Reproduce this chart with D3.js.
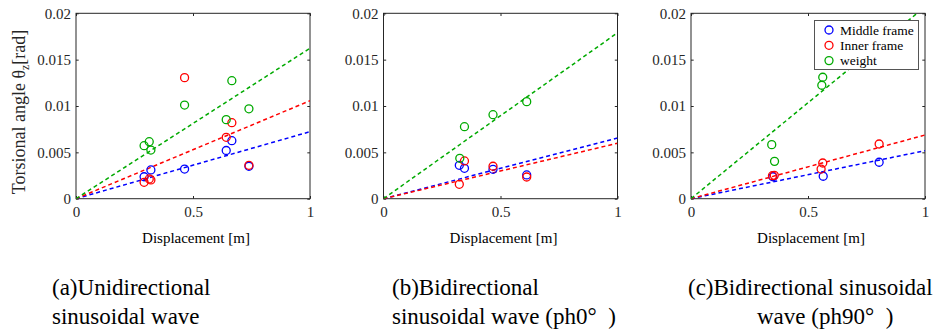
<!DOCTYPE html>
<html>
<head>
<meta charset="utf-8">
<script src="https://cdn.jsdelivr.net/npm/d3@7"></script>
<style>
  body { margin: 0; background: #fff; }
  svg { display: block; }
  svg text { font-family: "Liberation Serif", "DejaVu Serif", serif; }
</style>
</head>
<body>
<svg></svg>
<script>
var width = 944;
var height = 332;

var seriesNames = ["Middle frame", "Inner frame", "weight"];
var seriesColors = ["#0000ff", "#ff0000", "#00aa00"];

// panel (a) unidirectional
var aMiddleX = [0.291, 0.320, 0.464, 0.642, 0.666, 0.739];
var aMiddleY = [0.00237, 0.0031, 0.0032, 0.0052, 0.00626, 0.0035];
var aInnerX = [0.291, 0.313, 0.320, 0.464, 0.642, 0.666, 0.739];
var aInnerY = [0.00177, 0.00213, 0.00202, 0.01306, 0.00662, 0.0082, 0.0036];
var aWeightX = [0.291, 0.313, 0.320, 0.464, 0.642, 0.666, 0.739];
var aWeightY = [0.00572, 0.00615, 0.00525, 0.0101, 0.00853, 0.01273, 0.0097];
var aSlopes = [0.00723, 0.01057, 0.01623];

// panel (b) bidirectional ph0
var bMiddleX = [0.324, 0.346, 0.468, 0.612];
var bMiddleY = [0.0036, 0.00328, 0.00317, 0.00256];
var bInnerX = [0.324, 0.346, 0.468, 0.612];
var bInnerY = [0.00155, 0.00407, 0.0035, 0.00234];
var bWeightX = [0.326, 0.346, 0.468, 0.612];
var bWeightY = [0.00436, 0.00777, 0.00906, 0.01047];
var bSlopes = [0.00655, 0.00598, 0.0179];

// panel (c) bidirectional ph90
var cMiddleX = [0.350, 0.565, 0.804];
var cMiddleY = [0.00237, 0.00242, 0.00393];
var cInnerX = [0.348, 0.356, 0.556, 0.563, 0.804];
var cInnerY = [0.00248, 0.00252, 0.0032, 0.00385, 0.0059];
var cWeightX = [0.345, 0.357, 0.559, 0.563];
var cWeightY = [0.00583, 0.00403, 0.01224, 0.0131];
var cSlopes = [0.00518, 0.00687, 0.0207];

var xTicks = [0, 0.5, 1];
var yTicks = [0, 0.005, 0.01, 0.015, 0.02];
var xLabel = "Displacement [m]";

var panels = [
  { left: 76, xs: [aMiddleX, aInnerX, aWeightX], ys: [aMiddleY, aInnerY, aWeightY], slopes: aSlopes,
    caption: [{ x: 52, t: "(a)Unidirectional" }, { x: 52, t: "sinusoidal wave" }] },
  { left: 383.5, xs: [bMiddleX, bInnerX, bWeightX], ys: [bMiddleY, bInnerY, bWeightY], slopes: bSlopes,
    caption: [{ x: 392, t: "(b)Bidirectional" }, { x: 392, t: "sinusoidal wave (ph0\u00b0\u00a0\u00a0)" }] },
  { left: 691, xs: [cMiddleX, cInnerX, cWeightX], ys: [cMiddleY, cInnerY, cWeightY], slopes: cSlopes,
    caption: [{ x: 688, t: "(c)Bidirectional sinusoidal" }, { x: 757, t: "wave (ph90\u00b0\u00a0\u00a0)" }] }
];

var serif = "'Liberation Serif', 'DejaVu Serif', serif";
var plotW = 234;
var plotTop = 13.3;
var plotBottom = 198.7;
var axisColor = "#262626";
var tickLen = 2.7;

var svg = d3
  .select("svg")
  .attr("width", width)
  .attr("height", height)
  .attr("font-family", serif);

var fmt = function(d) { return d === 0 ? "0" : String(d); };

panels.forEach(function(p, pi) {
  var xScale = d3.scaleLinear().domain([0, 1]).range([p.left, p.left + plotW]);
  var yScale = d3.scaleLinear().domain([0, 0.02]).range([plotBottom, plotTop]);

  var g = svg.append("g");

  g.append("clipPath")
    .attr("id", "clip" + pi)
    .append("rect")
    .attr("x", p.left)
    .attr("y", plotTop)
    .attr("width", plotW)
    .attr("height", plotBottom - plotTop);

  // bottom / left axes, ticks pointing inward
  var xAxis = g.append("g")
    .attr("transform", "translate(0," + plotBottom + ")")
    .call(d3.axisBottom(xScale).tickValues(xTicks).tickFormat(fmt).tickSizeInner(-tickLen).tickSizeOuter(0).tickPadding(8));
  var yAxis = g.append("g")
    .attr("transform", "translate(" + p.left + ",0)")
    .call(d3.axisLeft(yScale).tickValues(yTicks).tickFormat(fmt).tickSizeInner(-tickLen).tickSizeOuter(0).tickPadding(5));
  // top / right ticks
  var xTop = g.append("g")
    .attr("transform", "translate(0," + plotTop + ")")
    .call(d3.axisTop(xScale).tickValues(xTicks).tickFormat("").tickSizeInner(-tickLen).tickSizeOuter(0));
  var yRight = g.append("g")
    .attr("transform", "translate(" + (p.left + plotW) + ",0)")
    .call(d3.axisRight(yScale).tickValues(yTicks).tickFormat("").tickSizeInner(-tickLen).tickSizeOuter(0));

  [xAxis, yAxis, xTop, yRight].forEach(function(a) {
    a.attr("font-family", serif).attr("font-size", 15);
    a.select(".domain").remove();
    a.selectAll("line").attr("stroke", axisColor);
    a.selectAll("text").attr("fill", axisColor);
  });

  g.append("rect")
    .attr("x", p.left)
    .attr("y", plotTop)
    .attr("width", plotW)
    .attr("height", plotBottom - plotTop)
    .attr("fill", "none")
    .attr("stroke", axisColor)
    .attr("stroke-width", 1);

  // fitted lines through origin
  g.append("g")
    .attr("clip-path", "url(#clip" + pi + ")")
    .selectAll("line")
    .data(p.slopes)
    .enter()
    .append("line")
    .attr("x1", xScale(0))
    .attr("y1", yScale(0))
    .attr("x2", xScale(1))
    .attr("y2", function(d) { return yScale(d); })
    .attr("stroke", function(d, i) { return seriesColors[i]; })
    .attr("stroke-width", 1.5)
    .attr("stroke-dasharray", "4,3");

  // markers
  p.xs.forEach(function(xArr, si) {
    g.append("g")
      .selectAll("circle")
      .data(xArr)
      .enter()
      .append("circle")
      .attr("cx", function(d) { return xScale(d); })
      .attr("cy", function(d, i) { return yScale(p.ys[si][i]); })
      .attr("r", 4)
      .attr("fill", "none")
      .attr("stroke", seriesColors[si])
      .attr("stroke-width", 1.3);
  });

  g.append("text")
    .attr("x", p.left + plotW / 2 + 3)
    .attr("y", 243)
    .attr("text-anchor", "middle")
    .attr("fill", "#000")
    .attr("font-size", 15)
    .text(xLabel);

  g.selectAll(".caption")
    .data(p.caption)
    .enter()
    .append("text")
    .attr("class", "caption")
    .attr("x", function(d) { return d.x; })
    .attr("y", function(d, i) { return 295 + i * 28.5; })
    .attr("fill", "#000")
    .attr("font-size", 23)
    .style("white-space", "pre")
    .text(function(d) { return d.t; });
});

// y label
var yl = svg.append("text")
  .attr("transform", "translate(25,112) rotate(-90)")
  .attr("text-anchor", "middle")
  .attr("fill", axisColor)
  .attr("font-size", 18);
yl.append("tspan").text("Torsional angle \u03b8");
yl.append("tspan").attr("dy", 4).attr("font-size", 12).text("z");
yl.append("tspan").attr("dy", -4).text("[rad]");

// legend
var legend = svg.append("g");
legend.append("rect")
  .attr("x", 814.5)
  .attr("y", 20.5)
  .attr("width", 104)
  .attr("height", 49)
  .attr("fill", "#fff")
  .attr("stroke", "#555")
  .attr("stroke-width", 1);
var items = legend.selectAll("g")
  .data(seriesNames)
  .enter()
  .append("g")
  .attr("transform", function(d, i) { return "translate(829," + (30 + i * 15.3) + ")"; });
items.append("circle")
  .attr("r", 4)
  .attr("fill", "none")
  .attr("stroke", function(d, i) { return seriesColors[i]; })
  .attr("stroke-width", 1.3);
items.append("text")
  .attr("x", 11)
  .attr("y", 4.5)
  .attr("fill", "#000")
  .attr("font-size", 13.5)
  .text(function(d) { return d; });
</script>
</body>
</html>
